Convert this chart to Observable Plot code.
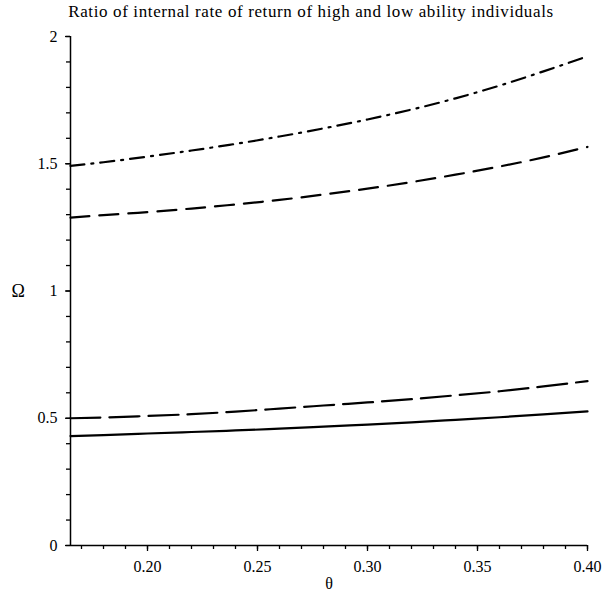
<!DOCTYPE html>
<html>
<head>
<meta charset="utf-8">
<script src="https://cdn.jsdelivr.net/npm/d3@7"></script>
<script src="https://cdn.jsdelivr.net/npm/@observablehq/plot@0.6"></script>
<style>
  body { margin: 0; background: #fff; }
  #title { width: 582px; padding-left: 20px; height: 24px; line-height: 24px; text-align: center;
           font-family: "Liberation Serif", "Times New Roman", serif; font-size: 17px; letter-spacing: 0.62px; color: #000; }
  svg { display: block; }
  #chart svg, #chart svg text { font-family: "Liberation Serif", "Times New Roman", serif !important; }
</style>
</head>
<body>
<div id="title">Ratio of internal rate of return of high and low ability individuals</div>
<div id="chart"></div>
<script>
const theta = [0.165, 0.18, 0.20, 0.22, 0.24, 0.26, 0.28, 0.30, 0.32, 0.34, 0.36, 0.38, 0.40];
const seriesDashDot = [1.492, 1.506, 1.528, 1.552, 1.578, 1.607, 1.639, 1.674, 1.713, 1.757, 1.807, 1.863, 1.922];
const seriesLongDash = [1.288, 1.298, 1.310, 1.324, 1.340, 1.358, 1.379, 1.402, 1.428, 1.457, 1.489, 1.525, 1.566];
const seriesDash = [0.500, 0.503, 0.509, 0.516, 0.526, 0.538, 0.550, 0.562, 0.575, 0.590, 0.606, 0.625, 0.646];
const seriesSolid = [0.430, 0.434, 0.440, 0.446, 0.452, 0.459, 0.467, 0.475, 0.484, 0.494, 0.504, 0.515, 0.527];

const xMajor = [0.20, 0.25, 0.30, 0.35, 0.40];
const xMinor = d3.range(17, 41).map(d => d / 100);
const yMajor = [0, 0.5, 1, 1.5, 2];
const yMinor = d3.range(0, 21).map(d => d / 10);

const mk = vals => theta.map((t, i) => ({theta: t, omega: vals[i]}));
const styles = [
  {vals: seriesDashDot, dash: "14,7,2,7"},
  {vals: seriesLongDash, dash: "19,10"},
  {vals: seriesDash, dash: "30,9"},
  {vals: seriesSolid, dash: null}
];

const chart = Plot.plot({
  width: 602,
  height: 579,
  marginTop: 12,
  marginBottom: 58,
  marginLeft: 70,
  marginRight: 15,
  style: {fontSize: "16px", color: "#000", background: "#fff"},
  x: {domain: [0.165, 0.40]},
  y: {domain: [0, 2]},
  marks: [
    Plot.axisX({ticks: xMinor, tickSize: 4, tickFormat: () => "", label: null, stroke: "#000", strokeWidth: 1.3}),
    Plot.axisX({ticks: xMajor, tickSize: 6, tickPadding: 9, tickFormat: d3.format(".2f"), label: null, stroke: "#000", strokeWidth: 1.3, fontSize: 16}),
    Plot.axisY({ticks: yMinor, tickSize: 4, tickFormat: () => "", label: null, stroke: "#000", strokeWidth: 1.3}),
    Plot.axisY({ticks: yMajor, tickSize: 5, tickPadding: 8, tickFormat: d => String(d), label: null, stroke: "#000", strokeWidth: 1.3, fontSize: 16}),
    Plot.ruleY([0], {stroke: "#000", strokeWidth: 1.5}),
    Plot.ruleX([0.165], {stroke: "#000", strokeWidth: 1.5}),
    ...styles.map(s => Plot.line(mk(s.vals), {
      x: "theta", y: "omega", curve: "natural", stroke: "#000", strokeWidth: 2.2,
      strokeDasharray: s.dash
    })),
    Plot.text(["Ω"], {frameAnchor: "left", dx: -59, fontSize: 18, fill: "#000"}),
    Plot.text(["θ"], {frameAnchor: "bottom", dy: 43, fontSize: 16, fill: "#000"})
  ]
});
document.getElementById("chart").appendChild(chart);
</script>
</body>
</html>
